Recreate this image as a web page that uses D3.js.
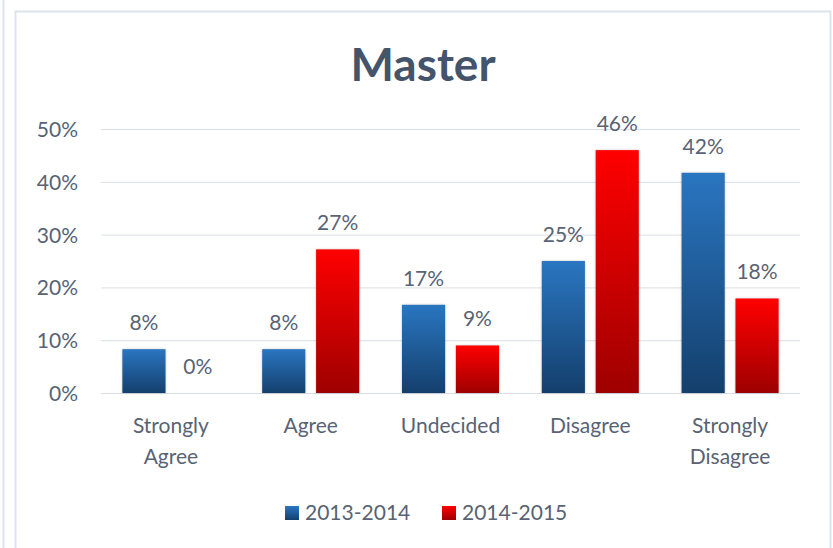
<!DOCTYPE html>
<html>
<head>
<meta charset="utf-8">
<script src="https://cdn.jsdelivr.net/npm/d3@7"></script>
<style>
    body { margin: 0; background: #ffffff; }
    text { font-family: Lato, "Open Sans", sans-serif; fill: #586373; }
    .title { font-weight: bold; fill: #44546a; }
</style>
</head>
<body>
<script>
// chart data
let categories = [["Strongly", "Agree"], ["Agree"], ["Undecided"], ["Disagree"], ["Strongly", "Disagree"]];
let seriesNames = ["2013-2014", "2014-2015"];
let values2013 = [8.3, 8.3, 16.7, 25.0, 41.7];
let values2014 = [0, 27.2, 9.0, 46.0, 17.9];
let yTicks = [0, 10, 20, 30, 40, 50];

function drawChart(){
    let width = 833, height = 548;
    let svg = d3.select("body").append("svg")
        .attr("width", width)
        .attr("height", height);

    // gradients for the bars
    let defs = svg.append("defs");
    let gradColors = [["#2a76c1", "#143f6c"], ["#ff0000", "#9e0000"]];
    gradColors.forEach(function(c, i){
        let g = defs.append("linearGradient")
            .attr("id", "grad" + i)
            .attr("x1", 0).attr("y1", 0).attr("x2", 0).attr("y2", 1);
        g.append("stop").attr("offset", "0%").attr("stop-color", c[0]);
        g.append("stop").attr("offset", "100%").attr("stop-color", c[1]);
    });

    // frame lines
    svg.append("line")
        .attr("x1", 3.5).attr("x2", 3.5).attr("y1", 0).attr("y2", height)
        .attr("stroke", "#dde3eb").attr("stroke-width", 2);
    svg.append("path")
        .attr("d", "M15.5," + height + "V11.5H830.5V" + height)
        .attr("fill", "none")
        .attr("stroke", "#dde3eb").attr("stroke-width", 2);

    // title
    svg.append("text")
        .attr("class", "title")
        .attr("x", 423)
        .attr("y", 81)
        .attr("text-anchor", "middle")
        .style("font-size", "46px")
        .text("Master");

    let idx = d3.range(categories.length);
    let x0 = d3.scaleBand()
        .domain(idx)
        .range([101, 800])
        .paddingInner(0.306)
        .paddingOuter(0.153);
    let x1 = d3.scaleBand()
        .domain([0, 1])
        .range([0, x0.bandwidth()])
        .paddingInner(0.2);
    let y = d3.scaleLinear()
        .domain([0, 50])
        .range([393, 129]);

    // gridlines + y labels
    let yAxis = d3.axisLeft(y)
        .tickValues(yTicks)
        .tickSize(-699)
        .tickFormat(d => d + "%")
        .tickPadding(23);
    let ga = svg.append("g")
        .attr("transform", "translate(101,0)")
        .call(yAxis);
    ga.select(".domain").remove();
    ga.selectAll(".tick line").attr("stroke", "#d9dee6");
    ga.selectAll(".tick text")
        .attr("font-size", null)
        .attr("font-family", null)
        .attr("fill", null)
        .style("font-size", "21px")
        .attr("dy", "0.36em");

    // bars
    let series = [values2013, values2014];
    series.forEach(function(vals, s){
        let g = svg.append("g");
        g.selectAll("rect")
            .data(vals)
            .join("rect")
            .attr("x", (d, i) => x0(i) + x1(s))
            .attr("y", d => y(d))
            .attr("width", x1.bandwidth())
            .attr("height", d => y(0) - y(d))
            .attr("fill", "url(#grad" + s + ")")
            .style("filter", "drop-shadow(0px 0px 1px rgba(0,0,0,0.25))");
        g.selectAll("text")
            .data(vals)
            .join("text")
            .attr("x", (d, i) => x0(i) + x1(s) + x1.bandwidth() / 2)
            .attr("y", d => y(d) - 19)
            .attr("text-anchor", "middle")
            .style("font-size", "21px")
            .text(d => Math.round(d) + "%");
    });

    // category labels
    let xl = svg.append("g");
    categories.forEach(function(lines, i){
        let t = xl.append("text")
            .attr("x", x0(i) + x0.bandwidth() / 2)
            .attr("y", 433)
            .attr("text-anchor", "middle")
            .style("font-size", "21px");
        lines.forEach(function(line, j){
            t.append("tspan")
                .attr("x", x0(i) + x0.bandwidth() / 2)
                .attr("dy", j == 0 ? 0 : 31)
                .text(line);
        });
    });

    // legend
    let legendX = [285, 442];
    let lg = svg.append("g");
    seriesNames.forEach(function(name, i){
        lg.append("rect")
            .attr("x", legendX[i])
            .attr("y", 506)
            .attr("width", 14)
            .attr("height", 14)
            .attr("fill", "url(#grad" + i + ")");
        lg.append("text")
            .attr("x", legendX[i] + 20)
            .attr("y", 520)
            .style("font-size", "21px")
            .text(name);
    });
}
drawChart();
</script>
</body>
</html>
